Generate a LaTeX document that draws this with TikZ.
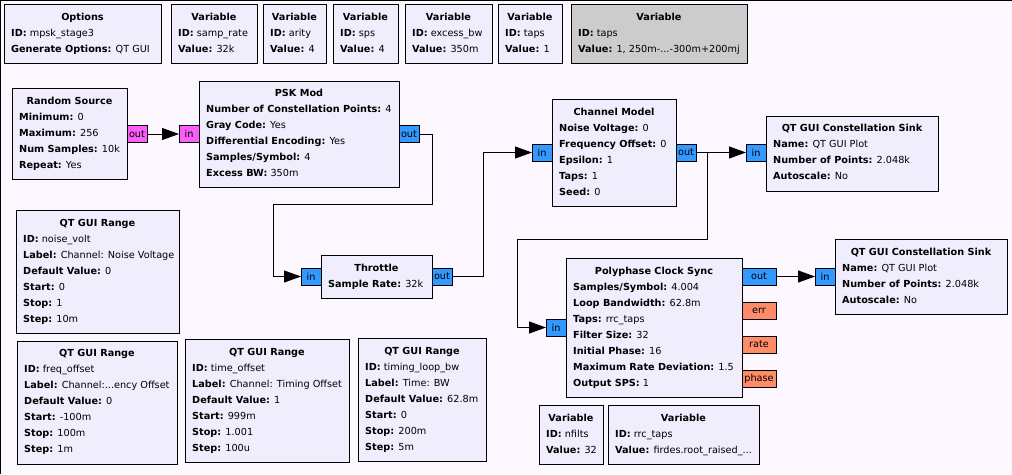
\documentclass[tikz,border=0pt]{standalone}
\usepackage{fontspec}
\setmainfont{DejaVu Sans}
\usetikzlibrary{arrows.meta}
\definecolor{bgc}{RGB}{253,248,255}
\definecolor{blockfill}{RGB}{240,238,253}
\definecolor{grayfill}{RGB}{204,204,204}
\definecolor{cplx}{RGB}{51,153,255}
\definecolor{bytec}{RGB}{250,95,250}
\definecolor{floatc}{RGB}{255,140,105}
\newcommand\kv[2]{\textbf{#1:} #2}
\newcommand\btext[6]{% name, x1, y1, w, title, lines
  \node[ttl] (#1-t) at ({#2+#4/2},{#3+13.5}) {#5};
  \foreach \ln [count=\i] in {#6} \node[txt] (#1-l\i) at ({#2+7},{#3+13.5+16*\i}) {\ln};
}
\tikzset{
  blockbox/.style={draw=black, fill=blockfill, line width=1pt, anchor=north west, inner sep=0pt, outer sep=0pt},
  graybox/.style={blockbox, fill=grayfill},
  ttl/.style={anchor=mid, inner sep=0pt, font=\fontsize{9.7}{12}\selectfont\bfseries},
  txt/.style={anchor=mid west, inner sep=0pt},
  portbox/.style={draw=black, line width=0.8pt, anchor=north west, inner sep=0pt, outer sep=0pt, minimum height=17pt},
  cport/.style={portbox, fill=cplx},
  bport/.style={portbox, fill=bytec},
  fport/.style={portbox, fill=floatc},
  conn/.style={draw=black, line width=1pt, -{Triangle[length=17pt,width=12pt]}},
}
\begin{document}
\begin{tikzpicture}[x=1pt,y=-1pt,font=\fontsize{9.7}{12}\selectfont]
\useasboundingbox (0,0) rectangle (1012,474);
\fill[bgc] (0,0) rectangle (1012,474);
\draw[line width=2pt] (0,474) -- (0,0) -- (1012,0);

% top row
\node[blockbox, minimum width=157pt, minimum height=59pt] (opt) at (4,4) {};
\btext{opt}{4}{4}{157}{Options}{\kv{ID}{mpsk\_stage3}, \kv{Generate Options}{QT GUI}}
\node[blockbox, minimum width=86pt, minimum height=59pt] (vsr) at (171,4) {};
\btext{vsr}{171}{4}{86}{Variable}{\kv{ID}{samp\_rate}, \kv{Value}{32k}}
\node[blockbox, minimum width=63pt, minimum height=59pt] (var) at (263,4) {};
\btext{var}{263}{4}{63}{Variable}{\kv{ID}{arity}, \kv{Value}{4}}
\node[blockbox, minimum width=65pt, minimum height=59pt] (vsps) at (333,4) {};
\btext{vsps}{333}{4}{65}{Variable}{\kv{ID}{sps}, \kv{Value}{4}}
\node[blockbox, minimum width=87pt, minimum height=59pt] (vebw) at (405,4) {};
\btext{vebw}{405}{4}{87}{Variable}{\kv{ID}{excess\_bw}, \kv{Value}{350m}}
\node[blockbox, minimum width=64pt, minimum height=59pt] (vtaps) at (498,4) {};
\btext{vtaps}{498}{4}{64}{Variable}{\kv{ID}{taps}, \kv{Value}{1}}
\node[graybox, minimum width=176pt, minimum height=59pt] (vtaps2) at (571,4) {};
\btext{vtaps2}{571}{4}{176}{Variable}{\kv{ID}{taps}, \kv{Value}{1, 250m-...-300m+200mj}}

% random source
\node[blockbox, minimum width=115pt, minimum height=91pt] (rs) at (12,88) {};
\btext{rs}{12}{88}{115}{Random Source}{\kv{Minimum}{0}, \kv{Maximum}{256}, \kv{Num Samples}{10k}, \kv{Repeat}{Yes}}
\node[bport, minimum width=20pt] (rs-out) at (127,125.5) {out};

% psk mod
\node[blockbox, minimum width=200pt, minimum height=106pt] (psk) at (199,81) {};
\btext{psk}{199}{80}{200}{PSK Mod}{\kv{Number of Constellation Points}{4}, \kv{Gray Code}{Yes}, \kv{Differential Encoding}{Yes}, \kv{Samples/Symbol}{4}, \kv{Excess BW}{350m}}
\node[bport, minimum width=20pt] (psk-in) at (179,125.5) {in};
\node[cport, minimum width=20pt] (psk-out) at (399,125.5) {out};

% throttle
\node[blockbox, minimum width=111pt, minimum height=43pt] (thr) at (321,255) {};
\btext{thr}{321}{255}{111}{Throttle}{\kv{Sample Rate}{32k}}
\node[cport, minimum width=20pt] (thr-in) at (301,268) {in};
\node[cport, minimum width=20pt] (thr-out) at (432,268) {out};

% channel model
\node[blockbox, minimum width=124pt, minimum height=107pt] (ch) at (552,99) {};
\btext{ch}{552}{99}{124}{Channel Model}{\kv{Noise Voltage}{0}, \kv{Frequency Offset}{0}, \kv{Epsilon}{1}, \kv{Taps}{1}, \kv{Seed}{0}}
\node[cport, minimum width=20pt] (ch-in) at (532,144) {in};
\node[cport, minimum width=20pt] (ch-out) at (676,144) {out};

% sink 1
\node[blockbox, minimum width=172pt, minimum height=75pt] (snk1) at (766,116) {};
\btext{snk1}{766}{115}{172}{QT GUI Constellation Sink}{\kv{Name}{QT GUI Plot}, \kv{Number of Points}{2.048k}, \kv{Autoscale}{No}}
\node[cport, minimum width=20pt] (snk1-in) at (746,144) {in};

% polyphase clock sync
\node[blockbox, minimum width=176pt, minimum height=139pt] (pcs) at (566,258) {};
\btext{pcs}{566}{258}{176}{Polyphase Clock Sync}{\kv{Samples/Symbol}{4.004}, \kv{Loop Bandwidth}{62.8m}, \kv{Taps}{rrc\_taps}, \kv{Filter Size}{32}, \kv{Initial Phase}{16}, \kv{Maximum Rate Deviation}{1.5}, \kv{Output SPS}{1}}
\node[cport, minimum width=20pt] (pcs-in) at (546,319) {in};
\node[cport, minimum width=34pt] (pcs-out) at (742,268) {out};
\node[fport, minimum width=34pt] (pcs-err) at (742,302) {err};
\node[fport, minimum width=34pt] (pcs-rate) at (742,336) {rate};
\node[fport, minimum width=34pt] (pcs-phase) at (742,370) {phase};

% sink 2
\node[blockbox, minimum width=172pt, minimum height=75pt] (snk2) at (835,239) {};
\btext{snk2}{835}{239}{172}{QT GUI Constellation Sink}{\kv{Name}{QT GUI Plot}, \kv{Number of Points}{2.048k}, \kv{Autoscale}{No}}
\node[cport, minimum width=20pt] (snk2-in) at (815,268) {in};

% ranges
\node[blockbox, minimum width=163pt, minimum height=123pt] (nv) at (16,210) {};
\btext{nv}{16}{210}{163}{QT GUI Range}{\kv{ID}{noise\_volt}, \kv{Label}{Channel: Noise Voltage}, \kv{Default Value}{0}, \kv{Start}{0}, \kv{Stop}{1}, \kv{Step}{10m}}
\node[blockbox, minimum width=160pt, minimum height=123pt] (fo) at (17,341) {};
\btext{fo}{17}{340}{160}{QT GUI Range}{\kv{ID}{freq\_offset}, \kv{Label}{Channel:...ency Offset}, \kv{Default Value}{0}, \kv{Start}{-100m}, \kv{Stop}{100m}, \kv{Step}{1m}}
\node[blockbox, minimum width=164pt, minimum height=123pt] (to) at (185,339) {};
\btext{to}{185}{339}{164}{QT GUI Range}{\kv{ID}{time\_offset}, \kv{Label}{Channel: Timing Offset}, \kv{Default Value}{1}, \kv{Start}{999m}, \kv{Stop}{1.001}, \kv{Step}{100u}}
\node[blockbox, minimum width=128pt, minimum height=123pt] (tlb) at (358,338) {};
\btext{tlb}{358}{338}{128}{QT GUI Range}{\kv{ID}{timing\_loop\_bw}, \kv{Label}{Time: BW}, \kv{Default Value}{62.8m}, \kv{Start}{0}, \kv{Stop}{200m}, \kv{Step}{5m}}

% bottom variables
\node[blockbox, minimum width=64pt, minimum height=59pt] (vnf) at (539,405) {};
\btext{vnf}{539}{405}{64}{Variable}{\kv{ID}{nfilts}, \kv{Value}{32}}
\node[blockbox, minimum width=151pt, minimum height=59pt] (vrrc) at (608,405) {};
\btext{vrrc}{608}{405}{151}{Variable}{\kv{ID}{rrc\_taps}, \kv{Value}{firdes.root\_raised\_...}}

% connections
\coordinate (a1) at (432,204);
\coordinate (a2) at (273,276.5);
\coordinate (b1) at (483,152.5);
\coordinate (c1) at (707,239);
\coordinate (c2) at (517,327.5);
\draw[conn] (rs-out.east) -- (psk-in.west);
\draw[conn] (psk-out.east) -| (a1) -| (a2) -- (thr-in.west);
\draw[conn] (thr-out.east) -| (b1) -- (ch-in.west);
\draw[conn] (ch-out.east) -- (snk1-in.west);
\draw[conn] (ch-out.east) -| (c1) -| (c2) -- (pcs-in.west);
\draw[conn] (pcs-out.east) -- (snk2-in.west);
\end{tikzpicture}
\end{document}
